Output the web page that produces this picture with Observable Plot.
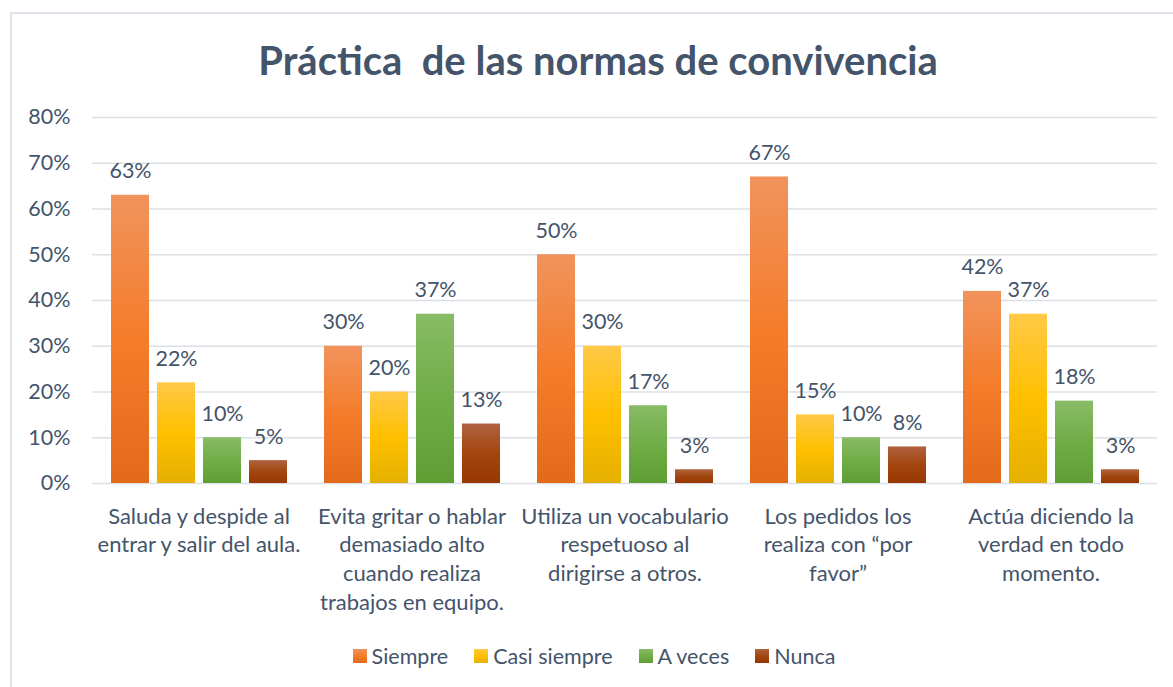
<!DOCTYPE html>
<html><head><meta charset="utf-8">
<script src="https://cdn.jsdelivr.net/npm/d3@7"></script>
<script src="https://cdn.jsdelivr.net/npm/@observablehq/plot@0.6"></script>
<style>
body{margin:0;background:#fff;font-family:Lato, sans-serif;overflow:hidden;}
#frame{position:absolute;left:10px;top:12px;width:1200px;height:700px;border-left:2px solid #DEE3EA;border-top:2px solid #DEE3EA;}
#title{position:absolute;left:0;width:1196px;top:37px;text-align:center;font-size:40px;font-weight:bold;color:#44546A;white-space:pre;line-height:46px;}
#chart{position:absolute;left:0;top:0;}
#legend{position:absolute;top:643px;left:0;width:1188px;display:flex;justify-content:center;font-size:21.5px;color:#44546A;line-height:26px;}
#legend .item{display:flex;align-items:center;margin:0 13px;}
#legend .sw{width:14px;height:14px;margin-right:5px;}
</style></head>
<body>
<div id="frame"></div>
<div id="chart"></div>
<div id="title"></div>
<div id="legend"></div>
<script>
const titleText = "Práctica  de las normas de convivencia";
const categories = [
  "Saluda y despide al\nentrar y salir del aula.",
  "Evita gritar o hablar\ndemasiado alto\ncuando realiza\ntrabajos en equipo.",
  "Utiliza un vocabulario\nrespetuoso al\ndirigirse a otros.",
  "Los pedidos los\nrealiza con “por\nfavor”",
  "Actúa diciendo la\nverdad en todo\nmomento."
];
const series = ["Siempre", "Casi siempre", "A veces", "Nunca"];
const siempre = [63, 30, 50, 67, 42];
const casiSiempre = [22, 20, 30, 15, 37];
const aVeces = [10, 37, 17, 10, 18];
const nunca = [5, 13, 3, 8, 3];
const yTicks = [0, 10, 20, 30, 40, 50, 60, 70, 80];

const gradients = [
  ["#F1935C", "#F47C2A", "#E36A1B"],
  ["#FFC947", "#FFC000", "#E5B000"],
  ["#88BB66", "#70AD47", "#5E9E33"],
  ["#B0623F", "#A2460F", "#983800"]
];

const values = [siempre, casiSiempre, aVeces, nunca];
const data = [];
categories.forEach((c, i) => series.forEach((s, j) => data.push({cat: c, serie: s, value: values[j][i]})));

document.getElementById("title").textContent = titleText;

const plot = Plot.plot({
  width: 1173, height: 630,
  marginTop: 117, marginBottom: 147, marginLeft: 92, marginRight: 16,
  style: {fontFamily: "Lato, sans-serif", fontSize: "21.5px", color: "#44546A", background: "transparent", overflow: "visible"},
  fx: {domain: categories, padding: 0, label: null},
  x: {domain: series, paddingInner: 0.18, paddingOuter: 0.4, axis: null},
  y: {domain: [0, 80], label: null},
  color: {domain: series, range: series.map((s, i) => `url(#grad${i})`)},
  marks: [
    Plot.gridY({ticks: yTicks, stroke: "#DCE0E6", strokeOpacity: 1, strokeWidth: 1.5}),
    Plot.barY(data, {fx: "cat", x: "serie", y: "value", fill: "serie"}),
    Plot.text(data, {fx: "cat", x: "serie", y: "value", text: d => d.value + "%", dy: -17, lineAnchor: "bottom", fill: "#44546A", fontSize: 21.5}),
    Plot.axisY({ticks: yTicks, tickFormat: d => d + "%", tickSize: 0, tickPadding: 22, label: null, fontSize: 21.5, fill: "#44546A"}),
    Plot.axisFx({anchor: "bottom", tickSize: 0, tickPadding: 20, label: null, lineHeight: 1.3, fontSize: 22, fill: "#44546A"})
  ]
});

const ns = "http://www.w3.org/2000/svg";
const defs = document.createElementNS(ns, "defs");
gradients.forEach((g, i) => {
  const lg = document.createElementNS(ns, "linearGradient");
  lg.setAttribute("id", `grad${i}`);
  lg.setAttribute("x1", "0"); lg.setAttribute("y1", "0");
  lg.setAttribute("x2", "0"); lg.setAttribute("y2", "1");
  [0, 0.5, 1].forEach((o, k) => {
    const st = document.createElementNS(ns, "stop");
    st.setAttribute("offset", o);
    st.setAttribute("stop-color", g[k]);
    lg.appendChild(st);
  });
  defs.appendChild(lg);
});
plot.insertBefore(defs, plot.firstChild);
document.getElementById("chart").appendChild(plot);

const legend = document.getElementById("legend");
series.forEach((s, i) => {
  const it = document.createElement("div");
  it.className = "item";
  const sw = document.createElement("div");
  sw.className = "sw";
  sw.style.background = `linear-gradient(${gradients[i][0]}, ${gradients[i][1]}, ${gradients[i][2]})`;
  const t = document.createElement("span");
  t.textContent = s;
  it.appendChild(sw); it.appendChild(t);
  legend.appendChild(it);
});
</script>
</body></html>
